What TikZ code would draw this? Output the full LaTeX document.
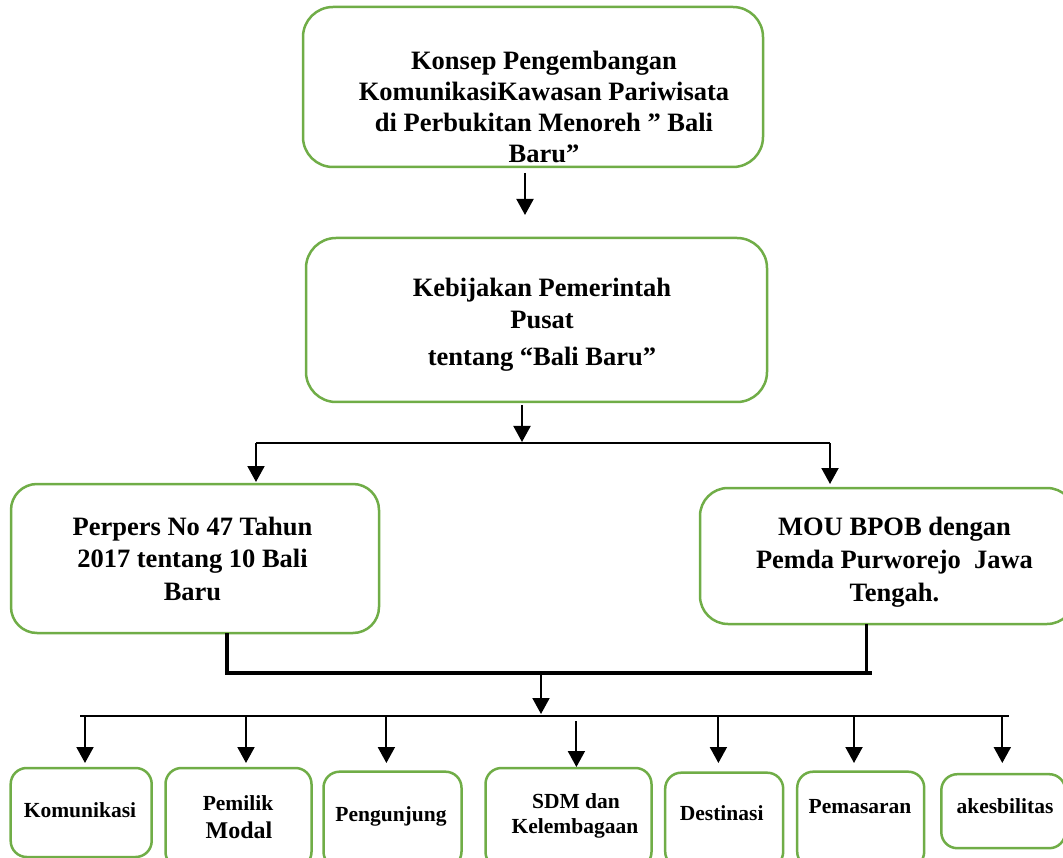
\documentclass[tikz,border=0pt]{standalone}
\usepackage{fontspec}
\setmainfont{Liberation Serif}
\usetikzlibrary{arrows.meta}
\definecolor{boxgreen}{HTML}{70AD47}
\begin{document}
\begin{tikzpicture}[x=1pt,y=-1pt,
  box/.style={draw=boxgreen, line width=2.5pt, inner sep=0pt, outer sep=0pt, fill=white},
  bigtxt/.style={anchor=base, inner sep=0pt, font=\fontsize{26.5}{31}\selectfont\bfseries},
  smalltxt/.style={anchor=base, inner sep=0pt, font=\fontsize{21.5}{25}\selectfont\bfseries},
  arr/.style={line width=2pt, -{Triangle[width=17pt,length=16pt]}},
  hline/.style={line width=1.6pt},
  bline/.style={line width=2.5pt},
  thickline/.style={line width=4pt}
]
\useasboundingbox (0,0) rectangle (1063,858);
\clip (0,0) rectangle (1063,858);

% ---- boxes ----
\node[box, rounded corners=30pt, minimum width=460pt, minimum height=160pt] (b1) at (533,87) {};
\node[box, rounded corners=30pt, minimum width=461pt, minimum height=164pt] (b2) at (536.5,320) {};
\node[box, rounded corners=26pt, minimum width=368pt, minimum height=149pt] (pp) at (195,558.5) {};
\node[box, rounded corners=28pt, minimum width=375pt, minimum height=136pt] (mou) at (887.5,556) {};

\node[box, rounded corners=16pt, minimum width=141pt, minimum height=89pt] (k1) at (81.2,812.5) {};
\node[box, rounded corners=16pt, minimum width=146pt, minimum height=100pt] (k2) at (238.5,818) {};
\node[box, rounded corners=16pt, minimum width=138pt, minimum height=96pt] (k3) at (392.5,819.7) {};
\node[box, rounded corners=16pt, minimum width=166pt, minimum height=100pt] (k4) at (568.5,818) {};
\node[box, rounded corners=16pt, minimum width=118pt, minimum height=95pt] (k5) at (724.2,820.2) {};
\node[box, rounded corners=16pt, minimum width=127pt, minimum height=96pt] (k6) at (860.7,819.7) {};
\node[box, rounded corners=16pt, minimum width=124pt, minimum height=74pt] (k7) at (1003.3,811.2) {};

% ---- texts ----
\node[bigtxt] (t1a) at (544,70) {Konsep Pengembangan};
\node[bigtxt] (t1b) at (544,101) {KomunikasiKawasan Pariwisata};
\node[bigtxt] (t1c) at (544,132) {di Perbukitan Menoreh ” Bali};
\node[bigtxt] (t1d) at (544,163) {Baru”};

\node[bigtxt] (t2a) at (542,297) {Kebijakan Pemerintah};
\node[bigtxt] (t2b) at (542,329) {Pusat};
\node[bigtxt] (t2c) at (542,366) {tentang “Bali Baru”};

\node[bigtxt] (t3a) at (192.5,535) {Perpers No 47 Tahun};
\node[bigtxt] (t3b) at (192.5,567.5) {2017 tentang 10 Bali};
\node[bigtxt] (t3c) at (192.5,600) {Baru};

\node[bigtxt] (t4a) at (894.5,535) {MOU BPOB dengan};
\node[bigtxt] (t4b) at (894.5,568) {Pemda Purworejo\ \ Jawa};
\node[bigtxt] (t4c) at (894.5,601.5) {Tengah.};

\node[smalltxt] (s1) at (80,817) {Komunikasi};
\node[smalltxt] (s2a) at (238,810) {Pemilik};
\node[smalltxt, font=\fontsize{24}{28}\selectfont\bfseries] (s2b) at (239,838) {Modal};
\node[smalltxt] (s3) at (391,821.7) {Pengunjung};
\node[smalltxt] (s4a) at (576,808) {SDM dan};
\node[smalltxt] (s4b) at (575,833) {Kelembagaan};
\node[smalltxt] (s5) at (721.7,820.7) {Destinasi};
\node[smalltxt] (s6) at (860,813.5) {Pemasaran};
\node[smalltxt] (s7) at (1005,813.5) {akesbilitas};

% ---- connector points ----
\coordinate (a1s) at (525,173);
\coordinate (a1e) at (525,215);
\coordinate (a2s) at (522,405);
\coordinate (a2e) at (522,442);
\coordinate (hL) at (256,443);
\coordinate (hR) at (830,443);
\coordinate (hLe) at (256,482);
\coordinate (hRe) at (830,484);
\coordinate (jL) at (227,673.3);
\coordinate (jR) at (871.7,673.3);
\coordinate (jM) at (866.7,673.3);
\coordinate (a3s) at (541,673);
\coordinate (a3e) at (541,714);
\coordinate (bL) at (80,716);
\coordinate (bR) at (1009,716);

% ---- connectors ----
\draw[arr] (a1s) -- (a1e);
\draw[arr] (a2s) -- (a2e);
\draw[hline] (hL) -- (hR);
\draw[arr] (hL) -- (hLe);
\draw[arr] (hR) -- (hRe);
\draw[thickline] (pp.south -| jL) -- (jL) -- (jR);
\draw[line width=3pt] (mou.south -| jM) -- (jM);
\draw[arr] (a3s) -- (a3e);
\draw[bline] (bL) -- (bR);

\foreach \n/\x in {1/85, 2/246, 3/386.4, 5/718.4, 6/854, 7/1002.3}{
  \coordinate (d\n s) at (\x,716);
  \coordinate (d\n e) at (\x,763);
  \draw[arr] (d\n s) -- (d\n e);
}
\coordinate (d4s) at (576.4,721);
\coordinate (d4e) at (576.4,767);
\draw[arr] (d4s) -- (d4e);
\end{tikzpicture}
\end{document}
